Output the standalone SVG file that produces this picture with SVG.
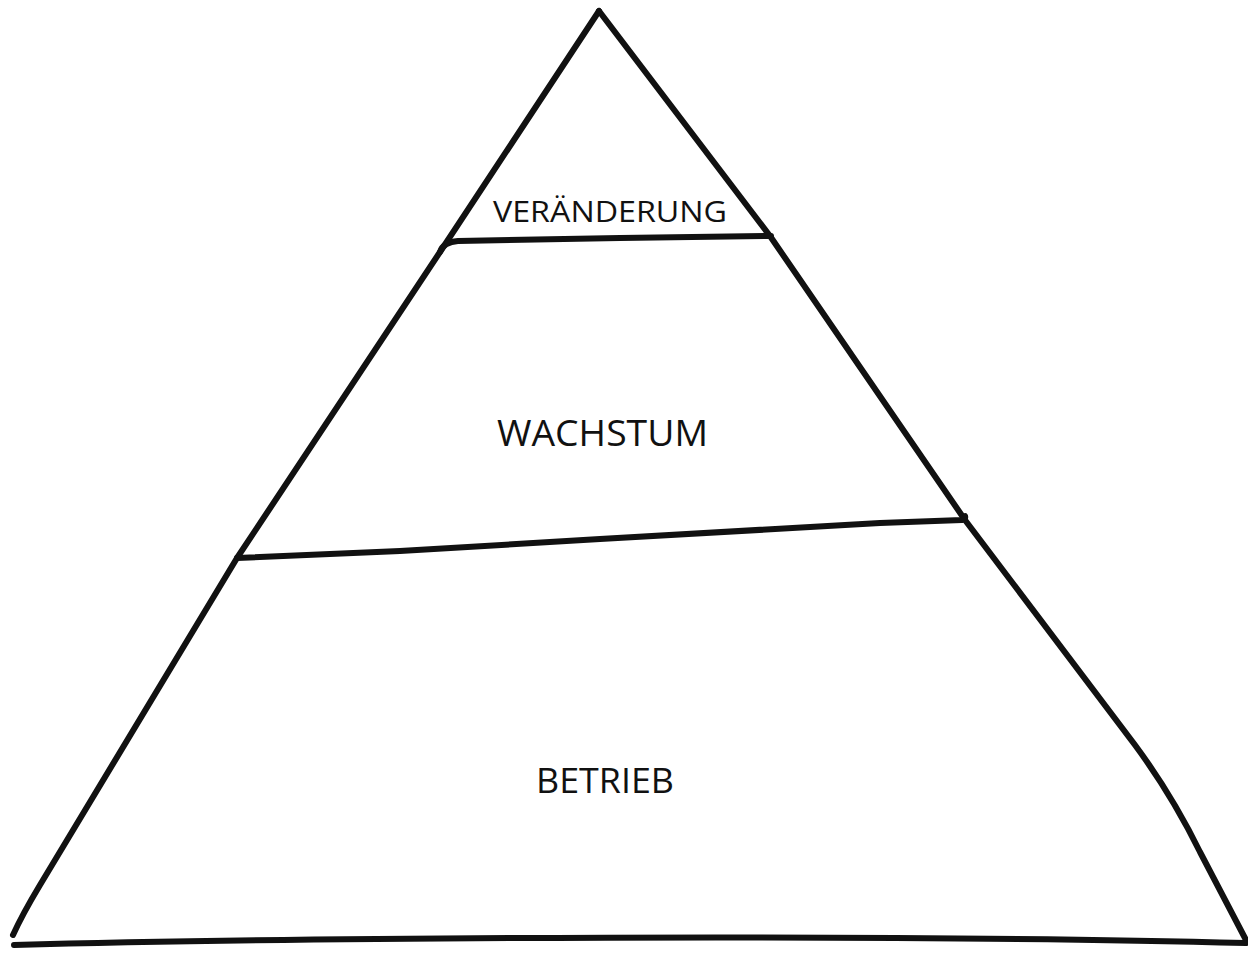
<svg xmlns="http://www.w3.org/2000/svg" width="1248" height="954" viewBox="0 0 1248 954">
<style>
.ln{fill:none;stroke:#111;stroke-width:6;stroke-linecap:round;stroke-linejoin:round}
.lbl{font-family:"Open Sans","Liberation Sans",sans-serif;fill:#111;text-anchor:start}
</style>
<rect width="1248" height="954" fill="#fff"/>
<g id="connectors">
<path class="ln" d="M13,935 Q22,915 40,885 L237,558 L440,252 L599,11"/>
<path class="ln" d="M599,11 L770,236 L965,520 L1135,745 Q1172,795 1200,852 L1246,940"/>
<path class="ln" d="M14,945 C300,937 900,934 1246,943"/>
<path class="ln" d="M440,252 Q443,242 458,241 L620,238 L771,236"/>
<path class="ln" d="M237,558 L400,551 L600,539 L880,523 L962,520 Q966,519 965,516"/>
</g>
<g id="node-veraenderung"><text class="lbl" x="493" y="222" font-size="30" textLength="234" lengthAdjust="spacingAndGlyphs">VERÄNDERUNG</text></g>
<g id="node-wachstum"><text class="lbl" x="497" y="446" font-size="37" textLength="211" lengthAdjust="spacingAndGlyphs">WACHSTUM</text></g>
<g id="node-betrieb"><text class="lbl" x="536" y="793" font-size="35" textLength="138" lengthAdjust="spacingAndGlyphs">BETRIEB</text></g>
</svg>
